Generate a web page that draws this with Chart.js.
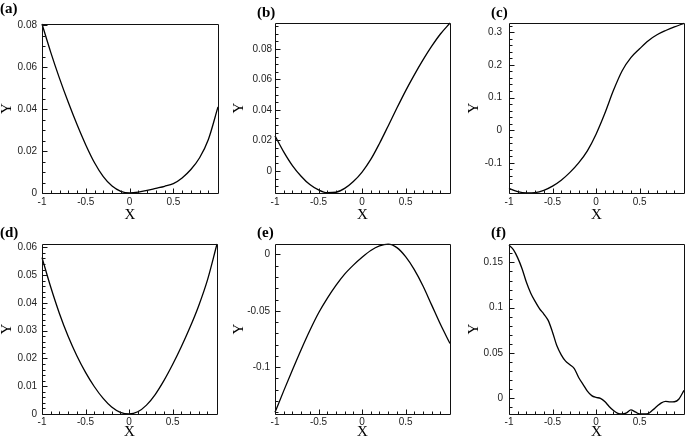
<!DOCTYPE html>
<html>
<head>
<meta charset="utf-8">
<title>Profiles (a)-(f)</title>
<script src="https://cdn.jsdelivr.net/npm/chart.js@4.4.1/dist/chart.umd.min.js"></script>
<style>
  body { margin: 0; background: #fff; }
  #wrap { position: relative; width: 685px; height: 441px; overflow: hidden; }
  canvas { position: absolute; }
  .tag { position: absolute; font: bold 15px 'Liberation Serif', 'DejaVu Serif', serif; line-height: 15px; color: #000; }
</style>
</head>
<body>
<div id="wrap">
  <canvas id="pa" width="228" height="225" style="left:0;top:0"></canvas>
  <canvas id="pb" width="228" height="225" style="left:228px;top:0"></canvas>
  <canvas id="pc" width="229" height="225" style="left:456px;top:0"></canvas>
  <canvas id="pd" width="228" height="221" style="left:0;top:220px"></canvas>
  <canvas id="pe" width="228" height="221" style="left:228px;top:220px"></canvas>
  <canvas id="pf" width="229" height="221" style="left:456px;top:220px"></canvas>
  <div class="tag" style="left:0;top:1px">(a)</div>
  <div class="tag" style="left:257px;top:5px">(b)</div>
  <div class="tag" style="left:491px;top:5px">(c)</div>
  <div class="tag" style="left:0;top:225px">(d)</div>
  <div class="tag" style="left:257px;top:225px">(e)</div>
  <div class="tag" style="left:491px;top:225px">(f)</div>
</div>
<script>
// sample positions along X
const xs = [-1, -0.9, -0.8, -0.7, -0.6, -0.5, -0.4, -0.3, -0.2, -0.1, 0,
            0.1, 0.2, 0.3, 0.4, 0.5, 0.6, 0.7, 0.8, 0.9, 1.01];
const xsF = [-1, -0.95, -0.9, -0.85, -0.8, -0.75, -0.7, -0.65, -0.6, -0.55, -0.5,
             -0.45, -0.4, -0.35, -0.3, -0.25, -0.2, -0.15, -0.1, -0.05, 0,
             0.05, 0.1, 0.15, 0.2, 0.25, 0.3, 0.35, 0.4, 0.45, 0.5,
             0.55, 0.6, 0.65, 0.7, 0.75, 0.8, 0.85, 0.9, 0.95, 1.01];

const yA = [0.0805, 0.067, 0.0546, 0.0432, 0.0326, 0.0229, 0.0144, 0.0078, 0.0033, 0.0008, 0,
            0.0004, 0.0012, 0.0022, 0.0032, 0.0045, 0.0072, 0.0112, 0.0168, 0.0255, 0.041];
const yB = [0.023, 0.0125, 0.0035, -0.0035, -0.009, -0.0125, -0.0143, -0.014, -0.0115, -0.007, -0.0008,
            0.0075, 0.018, 0.0295, 0.0412, 0.0525, 0.063, 0.0728, 0.0818, 0.0898, 0.097];
const yC = [-0.178, -0.188, -0.192, -0.191, -0.184, -0.171, -0.153, -0.129, -0.1, -0.063, -0.012,
            0.051, 0.122, 0.182, 0.222, 0.249, 0.274, 0.292, 0.305, 0.316, 0.327];
const yD = [0.0563, 0.0457, 0.0362, 0.028, 0.021, 0.015, 0.0099, 0.0057, 0.0025, 0.0006, 0,
            0.0008, 0.0032, 0.007, 0.012, 0.0178, 0.0242, 0.0312, 0.039, 0.0482, 0.0612];
const yE = [-0.14, -0.121, -0.1025, -0.0845, -0.0675, -0.052, -0.039, -0.0275, -0.0175, -0.0095, -0.0025,
            0.0035, 0.0075, 0.0091, 0.006, -0.002, -0.0135, -0.028, -0.045, -0.062, -0.079];
const yF = [0.169, 0.164, 0.155, 0.143, 0.128, 0.116, 0.107, 0.099, 0.093, 0.086, 0.073,
            0.058, 0.048, 0.041, 0.037, 0.0327, 0.023, 0.0155, 0.008, 0.003, 0.001,
            0, -0.0035, -0.009, -0.0135, -0.0165, -0.0173, -0.016, -0.0128, -0.015, -0.0173,
            -0.0173, -0.0168, -0.013, -0.0088, -0.005, -0.0033, -0.004, -0.0038, -0.001, 0.0088];

// axis limits and tick labels
const xLim = [-1, 1.01];
const xTicks = [-1, -0.5, 0, 0.5];
const yLimA = [0, 0.0805],     yTicksA = [0, 0.02, 0.04, 0.06, 0.08];
const yLimB = [-0.0145, 0.097], yTicksB = [0, 0.02, 0.04, 0.06, 0.08];
const yLimC = [-0.192, 0.328], yTicksC = [-0.1, 0, 0.1, 0.2, 0.3];
const yLimD = [0, 0.0612],     yTicksD = [0, 0.01, 0.02, 0.03, 0.04, 0.05, 0.06];
const yLimE = [-0.1415, 0.0092], yTicksE = [-0.1, -0.05, 0];
const yLimF = [-0.0173, 0.1703], yTicksF = [0, 0.05, 0.1, 0.15];

// box + inward major/minor ticks, Tecplot style
function framePlugin(minor, major) {
    return {
        id: 'frame',
        afterDraw(chart) {
            const ctx = chart.ctx, a = chart.chartArea;
            const sx = chart.scales.x, sy = chart.scales.y;
            const l = Math.round(a.left) + 0.5, r = Math.round(a.right) + 0.5;
            const t = Math.round(a.top) + 0.5, b = Math.round(a.bottom) + 0.5;
            ctx.save();
            ctx.strokeStyle = '#111';
            ctx.lineWidth = 1;
            ctx.beginPath();
            ctx.rect(l, t, r - l, b - t);
            for (let i = -10; i < 10; i++) {
                const px = Math.round(sx.getPixelForValue(i / 10)) + 0.5;
                const len = i % 5 === 0 ? 5 : 3;
                ctx.moveTo(px, b);
                ctx.lineTo(px, b - len);
            }
            const k0 = Math.ceil(sy.min / minor - 1e-6);
            const k1 = Math.floor(sy.max / minor + 1e-6);
            for (let k = k0; k <= k1; k++) {
                const v = k * minor;
                const py = Math.round(sy.getPixelForValue(v)) + 0.5;
                const q = v / major;
                const len = Math.abs(q - Math.round(q)) < 1e-6 ? 5 : 3;
                ctx.moveTo(l, py);
                ctx.lineTo(l + len, py);
            }
            ctx.stroke();
            ctx.restore();
        }
    };
}

Chart.defaults.font.family = "'Liberation Sans', Arial, sans-serif";
Chart.defaults.color = '#222';

function makePanel(id, xv, yv, yLim, yTicks, minor, major, box) {
    const pts = xv.map((x, i) => ({x: x, y: yv[i]}));
    return new Chart(document.getElementById(id), {
        type: 'line',
        data: {
            datasets: [{
                data: pts,
                borderColor: '#000',
                borderWidth: 1.3,
                pointRadius: 0,
                cubicInterpolationMode: 'monotone',
                clip: false
            }]
        },
        options: {
            responsive: false,
            animation: false,
            layout: {padding: {left: 0, right: box.pr, top: box.pt, bottom: 0}},
            plugins: {
                legend: {display: false},
                tooltip: {enabled: false}
            },
            scales: {
                x: {
                    type: 'linear',
                    min: xLim[0],
                    max: xLim[1],
                    afterBuildTicks: s => { s.ticks = xTicks.map(v => ({value: v})); },
                    afterFit: s => { s.height = box.xh; },
                    grid: {display: false, drawTicks: false},
                    border: {display: false},
                    ticks: {padding: box.tpx, font: {size: 10}, maxRotation: 0, callback: v => String(v)},
                    title: {
                        display: true, text: 'X', color: '#000',
                        font: {family: "'Liberation Serif', 'DejaVu Serif', serif", size: 15, lineHeight: 1},
                        padding: {top: 0, bottom: box.xtp}
                    }
                },
                y: {
                    type: 'linear',
                    min: yLim[0],
                    max: yLim[1],
                    afterBuildTicks: s => { s.ticks = yTicks.map(v => ({value: v})); },
                    afterFit: s => { s.width = box.pl; },
                    grid: {display: false, drawTicks: false},
                    border: {display: false},
                    ticks: {padding: box.tpy, font: {size: 10}, callback: v => String(v)},
                    title: {
                        display: true, text: 'Y', color: '#000',
                        font: {family: "'Liberation Serif', 'DejaVu Serif', serif", size: 15, lineHeight: 1},
                        padding: {top: box.ytp, bottom: 0}
                    }
                }
            }
        },
        plugins: [framePlugin(minor, major)]
    });
}

makePanel('pa', xs, yA, yLimA, yTicksA, 0.005, 0.02, {pl: 42, pr: 10, pt: 24, xh: 32, tpx: 3, tpy: 5, ytp: 0, xtp: 2.5});
makePanel('pb', xs, yB, yLimB, yTicksB, 0.005, 0.02, {pl: 47, pr: 6, pt: 23, xh: 32, tpx: 3, tpy: 3, ytp: 4, xtp: 2.5});
makePanel('pc', xs, yC, yLimC, yTicksC, 0.02, 0.1, {pl: 53, pr: 1, pt: 23, xh: 32, tpx: 3, tpy: 7, ytp: 11, xtp: 2.5});
makePanel('pd', xs, yD, yLimD, yTicksD, 0.002, 0.01, {pl: 42, pr: 11, pt: 24, xh: 27, tpx: 2, tpy: 5, ytp: 0, xtp: 1.5});
makePanel('pe', xs, yE, yLimE, yTicksE, 0.01, 0.05, {pl: 47, pr: 6, pt: 24, xh: 27, tpx: 2, tpy: 5, ytp: 4, xtp: 1.5});
makePanel('pf', xsF, yF, yLimF, yTicksF, 0.01, 0.05, {pl: 53, pr: 1, pt: 24, xh: 27, tpx: 2, tpy: 6, ytp: 11, xtp: 1.5});
</script>
</body>
</html>
